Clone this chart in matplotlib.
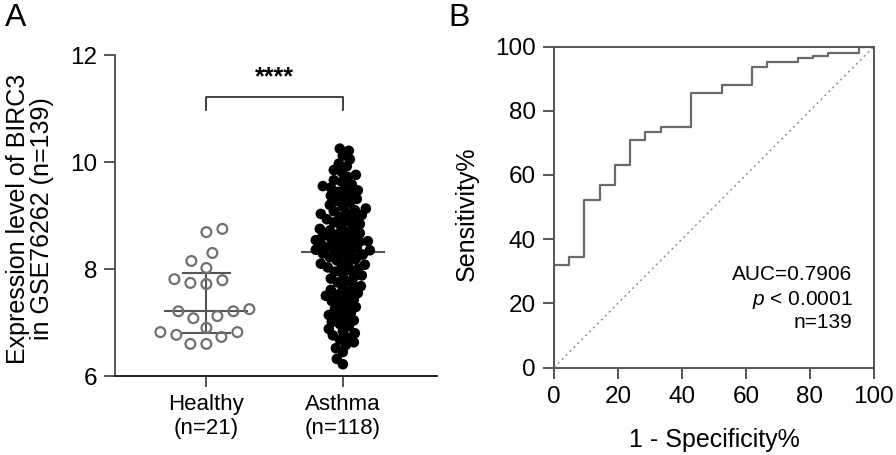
import numpy as np
import matplotlib
matplotlib.use("Agg")
from matplotlib import pyplot as plt

plt.rcParams['font.family'] = ['Liberation Sans', 'DejaVu Sans']
plt.rcParams['mathtext.fontset'] = 'custom'
plt.rcParams['mathtext.rm'] = 'Liberation Sans'
plt.rcParams['mathtext.it'] = 'Liberation Sans:italic'

# ---- Panel A data (expression level of BIRC3) ----
group_labels = ['Healthy\n(n=21)', 'Asthma\n(n=118)']
healthy = [8.75, 8.69, 8.30, 8.15, 8.02, 7.81, 7.74, 7.79, 7.72, 7.21, 7.21,
           7.25, 7.08, 7.12, 6.90, 6.82, 6.73, 6.77, 6.82, 6.60, 6.60]
asthma = [10.25, 10.21, 10.12, 10.05,
          9.97, 9.92, 9.85, 9.81, 9.76, 9.72, 9.66, 9.63, 9.58, 9.55, 9.52, 9.50,
          9.47, 9.44, 9.41, 9.37, 9.35, 9.31, 9.27, 9.24, 9.20, 9.17, 9.13, 9.10,
          9.08, 9.05, 9.03, 9.01,
          8.98, 8.95, 8.93, 8.90, 8.87, 8.84, 8.81, 8.78, 8.75, 8.72, 8.70, 8.67,
          8.65, 8.62, 8.60, 8.58, 8.56, 8.54, 8.52, 8.51,
          8.49, 8.47, 8.45, 8.42, 8.40, 8.38, 8.36, 8.35, 8.33, 8.31, 8.29, 8.27,
          8.25, 8.22, 8.19, 8.16, 8.13, 8.10, 8.08, 8.05, 8.03, 8.01,
          7.98, 7.95, 7.91, 7.88, 7.85, 7.82, 7.78, 7.75, 7.71, 7.68, 7.64, 7.61,
          7.58, 7.55, 7.52, 7.50,
          7.47, 7.43, 7.40, 7.36, 7.33, 7.29, 7.25, 7.22, 7.18, 7.14, 7.11, 7.07,
          7.04, 7.01,
          6.97, 6.93, 6.88, 6.84, 6.80, 6.76, 6.72, 6.68, 6.63, 6.58, 6.52,
          6.45, 6.32, 6.22]
# median and interquartile range
medians = [7.21, 8.32]
q1 = [6.80, 7.50]
q3 = [7.93, 9.10]

# ---- Panel B data (ROC curve) ----
fpr = [0, 0, 4.76, 9.52, 14.29, 19.05, 23.81, 28.57, 33.33, 42.86, 52.38,
       61.90, 66.67, 76.19, 80.95, 85.71, 95.24, 100]
tpr = [0, 31.9, 34.4, 52.3, 57.0, 63.1, 70.9, 73.3, 74.9, 85.4, 88.0,
       93.7, 95.2, 96.3, 97.1, 97.9, 100, 100]

axcol = '#555555'


def swarm(vals, dist, kx, ky):
    # simple beeswarm: offsets in data units, collision checked in pixels
    vals = np.asarray(vals)
    order = np.argsort(vals)
    placed = []
    offs = np.zeros(len(vals))
    for n, i in enumerate(order):
        y = vals[i] * ky
        first = 1 if n % 2 == 0 else -1
        found = None
        for step in range(0, 400):
            for sgn in ((first,) if step == 0 else (first, -first)):
                x = sgn * step
                if all((x - px) ** 2 + (y - py) ** 2 >= dist ** 2 for px, py in placed):
                    found = x
                    break
            if found is not None:
                break
        placed.append((found, y))
        offs[i] = found / kx
    return offs


fig = plt.figure(figsize=(8.96, 4.55), dpi=100)

# ---------------- Panel A ----------------
ax = fig.add_axes([0.1283, 0.1736, 0.3594, 0.7055])
ax.set_xlim(0.33, 2.69)
ax.set_ylim(6, 12)
fig.canvas.draw()
bb = ax.get_window_extent()
kx = bb.width / (2.69 - 0.33)
ky = bb.height / 6.0

caps = [0.17, 0.08]
for i in range(2):
    xc = i + 1
    ax.plot([xc - 0.3, xc + 0.3], [medians[i]] * 2, color=axcol, lw=1.5, zorder=1)
    ax.plot([xc - caps[i], xc + caps[i]], [q1[i]] * 2, color=axcol, lw=1.5, zorder=1)
    ax.plot([xc - caps[i], xc + caps[i]], [q3[i]] * 2, color=axcol, lw=1.5, zorder=1)
    ax.plot([xc, xc], [q1[i], q3[i]], color=axcol, lw=1.5, zorder=1)

hx = 1 + swarm(healthy, 16, kx, ky)
ax.scatter(hx, healthy, s=50, facecolors='none', edgecolors='#707070',
           linewidths=1.6, zorder=3)
ax_ = 2 + swarm(asthma, 7.5, kx, ky)
ax.scatter(ax_, asthma, s=58, color='black', edgecolors='none', zorder=3)

# significance bracket
ax.plot([1, 1, 2, 2], [10.97, 11.21, 11.21, 10.97], color='#333333', lw=1.3,
        clip_on=False)
ax.text(1.5, 11.36, '****', ha='center', va='bottom', fontsize=18,
        fontweight='bold')

ax.set_xticks([1, 2])
ax.set_xticklabels(group_labels, fontsize=16)
ax.set_yticks([6, 8, 10, 12])
ax.tick_params(axis='y', labelsize=17.5)
ax.tick_params(length=8, width=1.4, color=axcol, pad=5)
for s in ['top', 'right']:
    ax.spines[s].set_visible(False)
for s in ['left', 'bottom']:
    ax.spines[s].set_color(axcol)
    ax.spines[s].set_linewidth(1.4)
ax.spines['bottom'].set_color('#222222')
ax.set_ylabel('Expression level of BIRC3\nin GSE76262 (n=139)', fontsize=18,
              linespacing=1.0)
ax.yaxis.set_label_coords(-0.19, 0.49)

# ---------------- Panel B ----------------
bx = fig.add_axes([0.6183, 0.1923, 0.3571, 0.7055])
bx.plot([0, 100], [0, 100], linestyle=(0, (1.5, 2.5)), color='#8a8a8a', lw=1.0)
bx.plot(fpr, tpr, drawstyle='steps-post', color='#6a6a6a', lw=1.6)
bx.set_xlim(0, 100)
bx.set_ylim(0, 100)
bx.set_xticks(np.arange(0, 101, 20))
bx.set_yticks(np.arange(0, 101, 20))
bx.tick_params(length=8, width=1.4, color=axcol, labelsize=17.5, pad=5)
for s in bx.spines.values():
    s.set_color(axcol)
    s.set_linewidth(1.4)
bx.set_xlabel('1 - Specificity%', fontsize=18)
bx.set_ylabel('Sensitivity%', fontsize=18)
bx.xaxis.set_label_coords(0.5, -0.19)
bx.yaxis.set_label_coords(-0.235, 0.48)

bx.text(93.3, 29.1, 'AUC=0.7906', ha='right', va='center', fontsize=15)
bx.text(93.3, 21.0, r'$\mathit{p}$' + ' < 0.0001', ha='right', va='center', fontsize=15)
bx.text(93.3, 13.9, 'n=139', ha='right', va='center', fontsize=15)

fig.text(5 / 896, 1 - 3 / 455, 'A', fontsize=23, ha='left', va='top')
fig.text(448 / 896, 1 - 3 / 455, 'B', fontsize=23, ha='left', va='top')

fig.savefig('out.png', dpi=100)
